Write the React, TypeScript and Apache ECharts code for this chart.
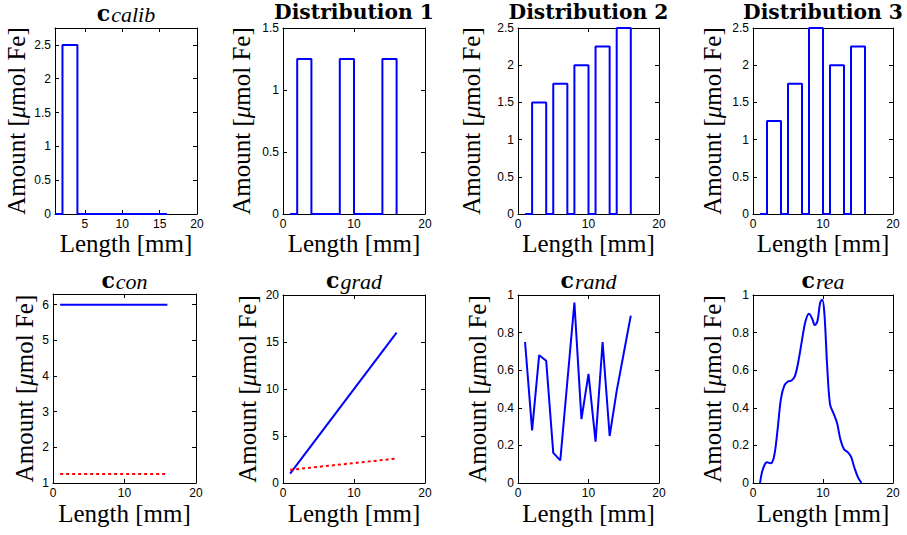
import React, { useEffect, useRef } from "react";
import * as echarts from "echarts";

// ---------- data ----------
const lengthStart = 1;
const lengthEnd = 16;

const calibStart = [2];
const calibEnd = [4];
const calibHeight = [2.5];

const dist1Start = [2, 8, 14];
const dist1End = [4, 10, 16];
const dist1Height = [1.25, 1.25, 1.25];

const dist23Start = [2, 5, 8, 11, 14];
const dist23End = [4, 7, 10, 13, 16];
const dist2Height = [1.5, 1.75, 2.0, 2.25, 2.5];
const dist3Height = [1.25, 1.75, 2.5, 2.0, 2.25];

const conX = [1, 16];
const conBlue = [6, 6];
const conRed = [1.25, 1.25];

const gradX = [1, 16];
const gradBlue = [1, 16];
const gradRed = [1.4, 2.6];

const randX = [1, 2, 3, 4, 5, 6, 7, 8, 9, 10, 11, 12, 13, 14, 15, 16];
const randY = [0.75, 0.28, 0.68, 0.65, 0.16, 0.12, 0.54, 0.96, 0.34, 0.58, 0.22, 0.75, 0.25, 0.49, 0.69, 0.89];

const reaX = [1.0, 1.3, 1.7, 2.0, 2.5, 3.0, 3.5, 4.0, 4.5, 5.0, 5.5, 6.0, 6.5, 7.0, 7.5, 8.0, 8.5, 8.8, 9.2, 9.6, 9.9, 10.2, 10.6, 11.0, 11.5, 12.0, 12.5, 13.0, 13.5, 14.0, 14.5, 15.0, 15.5];
const reaY = [0.0, 0.06, 0.10, 0.11, 0.105, 0.14, 0.28, 0.45, 0.52, 0.54, 0.545, 0.57, 0.65, 0.76, 0.86, 0.90, 0.87, 0.84, 0.86, 0.96, 0.975, 0.90, 0.62, 0.42, 0.37, 0.32, 0.23, 0.18, 0.165, 0.14, 0.08, 0.03, 0.0];

const xTicks0 = [0, 10, 20];
const xTicksCalib = [5, 10, 15, 20];
const yTicksCalib = [0, 0.5, 1, 1.5, 2, 2.5];
const yTicksDist1 = [0, 0.5, 1, 1.5];
const yTicksDist2 = [0, 0.5, 1, 1.5, 2, 2.5];
const yTicksCon = [1, 2, 3, 4, 5, 6];
const yTicksGrad = [0, 5, 10, 15, 20];
const yTicksUnit = [0, 0.2, 0.4, 0.6, 0.8, 1];

const xName = "Length [mm]";
const yNameParts = ["Amount [", "\u03bc", "mol Fe]"];

// ---------- helpers ----------
function outline(starts: number[], ends: number[], heights: number[]) {
  const pts: number[][] = [[lengthStart, 0]];
  for (let i = 0; i < starts.length; i++) {
    pts.push([starts[i], 0], [starts[i], heights[i]], [ends[i], heights[i]], [ends[i], 0]);
  }
  if (ends[ends.length - 1] < lengthEnd) pts.push([lengthEnd, 0]);
  return pts;
}
function zip(xs: number[], ys: number[]) {
  return xs.map((x, i) => [x, ys[i]]);
}

const SERIF = "Liberation Serif";
const BSERIF = "DejaVu Serif";
const SANS = "Liberation Sans";

let measureCtx: CanvasRenderingContext2D | null = null;
function textW(font: string, s: string) {
  if (!measureCtx) measureCtx = document.createElement("canvas").getContext("2d");
  if (!measureCtx) return s.length * 10;
  measureCtx.font = font;
  return measureCtx.measureText(s).width;
}

type Panel = {
  left: number; top: number; width: number; height: number;
  xMin: number; xMax: number; xTicks: number[];
  yMin: number; yMax: number; yTicks: number[];
  yNameX: number; xNameBase: number;
  main: string; sub: string; titleBase: number;
  series: { data: number[][]; dashed?: boolean; smooth?: boolean }[];
};

const panels: Panel[] = [
  { left: 55, top: 28, width: 142, height: 186, xMin: 1, xMax: 20, xTicks: xTicksCalib, yMin: 0, yMax: 2.75, yTicks: yTicksCalib, yNameX: 16, xNameBase: 251, main: "c", sub: "calib", titleBase: 20,
    series: [{ data: outline(calibStart, calibEnd, calibHeight) }] },
  { left: 283, top: 28, width: 142, height: 186, xMin: 0, xMax: 20, xTicks: xTicks0, yMin: 0, yMax: 1.5, yTicks: yTicksDist1, yNameX: 241, xNameBase: 251, main: "Distribution 1", sub: "", titleBase: 18,
    series: [{ data: outline(dist1Start, dist1End, dist1Height) }] },
  { left: 518, top: 28, width: 141, height: 186, xMin: 0, xMax: 20, xTicks: xTicks0, yMin: 0, yMax: 2.5, yTicks: yTicksDist2, yNameX: 471, xNameBase: 251, main: "Distribution 2", sub: "", titleBase: 18,
    series: [{ data: outline(dist23Start, dist23End, dist2Height) }] },
  { left: 753, top: 28, width: 140, height: 186, xMin: 0, xMax: 20, xTicks: xTicks0, yMin: 0, yMax: 2.5, yTicks: yTicksDist2, yNameX: 712, xNameBase: 251, main: "Distribution 3", sub: "", titleBase: 18,
    series: [{ data: outline(dist23Start, dist23End, dist3Height) }] },
  { left: 53, top: 294, width: 143, height: 189, xMin: 0, xMax: 20, xTicks: xTicks0, yMin: 1, yMax: 6.3, yTicks: yTicksCon, yNameX: 24, xNameBase: 521, main: "c", sub: "con", titleBase: 287,
    series: [{ data: zip(conX, conBlue) }, { data: zip(conX, conRed), dashed: true }] },
  { left: 283, top: 295, width: 142, height: 188, xMin: 0, xMax: 20, xTicks: xTicks0, yMin: 0, yMax: 20, yTicks: yTicksGrad, yNameX: 247, xNameBase: 521, main: "c", sub: "grad", titleBase: 287,
    series: [{ data: zip(gradX, gradBlue) }, { data: zip(gradX, gradRed), dashed: true }] },
  { left: 518, top: 295, width: 141, height: 188, xMin: 0, xMax: 20, xTicks: xTicks0, yMin: 0, yMax: 1, yTicks: yTicksUnit, yNameX: 477, xNameBase: 521, main: "c", sub: "rand", titleBase: 287,
    series: [{ data: zip(randX, randY) }] },
  { left: 753, top: 295, width: 140, height: 188, xMin: 0, xMax: 20, xTicks: xTicks0, yMin: 0, yMax: 1, yTicks: yTicksUnit, yNameX: 712, xNameBase: 521, main: "c", sub: "rea", titleBase: 287,
    series: [{ data: zip(reaX, reaY), smooth: true }] },
];

const NAME_SIZE = 25;
const C_SIZE = 22;
const SUB_SIZE = 22;
const DIST_SIZE = 20.3;

function buildOption() {
  const grid: any[] = [];
  const xAxis: any[] = [];
  const yAxis: any[] = [];
  const series: any[] = [];
  const graphic: any[] = [];
  const line = { show: true, onZero: false, lineStyle: { color: "#000", width: 1 } };
  const nameFont = `${NAME_SIZE}px "${SERIF}"`;
  const italicNameFont = `italic ${NAME_SIZE}px "${SERIF}"`;
  const yw = [textW(nameFont, yNameParts[0]), textW(italicNameFont, yNameParts[1]), textW(nameFont, yNameParts[2])];
  const yTotal = yw[0] + yw[1] + yw[2];

  panels.forEach((p, i) => {
    grid.push({ left: p.left, top: p.top, width: p.width, height: p.height, containLabel: false });
    const tick = (vals: number[]) => ({ show: true, inside: true, length: 4, customValues: vals, lineStyle: { color: "#000", width: 1 } });
    const label = (vals: number[]) => ({ show: true, customValues: vals, color: "#000", fontSize: 12, fontFamily: SANS, margin: 4 });
    xAxis.push({
      type: "value", gridIndex: i, position: "bottom", min: p.xMin, max: p.xMax,
      axisLine: line, axisTick: tick(p.xTicks), axisLabel: label(p.xTicks), splitLine: { show: false },
    });
    xAxis.push({
      type: "value", gridIndex: i, position: "top", min: p.xMin, max: p.xMax,
      axisLine: line, axisTick: tick(p.xTicks), axisLabel: { show: false }, splitLine: { show: false },
    });
    yAxis.push({
      type: "value", gridIndex: i, position: "left", min: p.yMin, max: p.yMax,
      axisLine: line, axisTick: tick(p.yTicks), axisLabel: label(p.yTicks), splitLine: { show: false },
    });
    yAxis.push({
      type: "value", gridIndex: i, position: "right", min: p.yMin, max: p.yMax,
      axisLine: line, axisTick: tick(p.yTicks), axisLabel: { show: false }, splitLine: { show: false },
    });
    p.series.forEach((s) => {
      series.push({
        type: "line", xAxisIndex: 2 * i, yAxisIndex: 2 * i, data: s.data,
        symbol: "none", showSymbol: false, clip: false, smooth: s.smooth ? 0.35 : false,
        lineStyle: s.dashed ? { color: "#ff0000", width: 2, type: [3, 3] } : { color: "#0000ff", width: 2 },
        z: 5,
      });
    });

    const cx = p.left + p.width / 2;
    const cy = p.top + p.height / 2;

    // x axis name
    graphic.push({
      type: "text", x: cx, y: p.xNameBase - 0.3 * NAME_SIZE,
      style: { text: xName, fontFamily: SERIF, fontSize: NAME_SIZE, fill: "#000", align: "center", verticalAlign: "middle" },
    });

    // y axis name (rotated group)
    let off = -yTotal / 2;
    const kids: any[] = yNameParts.map((t, k) => {
      const el = {
        type: "text", x: off, y: 0,
        style: { text: t, fontFamily: SERIF, fontSize: NAME_SIZE, fontStyle: k === 1 ? "italic" : "normal", fill: "#000", align: "left", verticalAlign: "middle" },
      };
      off += yw[k];
      return el;
    });
    graphic.push({ type: "group", x: p.yNameX, y: cy, rotation: Math.PI / 2, children: kids });

    // title
    if (p.sub) {
      const cFont = `bold ${C_SIZE}px "${BSERIF}"`;
      const sFont = `italic ${SUB_SIZE}px "${SERIF}"`;
      const wc = textW(cFont, p.main);
      const ws = textW(sFont, p.sub);
      const x0 = cx - (wc + 1 + ws) / 2;
      graphic.push({
        type: "text", x: x0, y: p.titleBase - 0.3 * C_SIZE,
        style: { text: p.main, fontFamily: BSERIF, fontWeight: "bold", fontSize: C_SIZE, fill: "#000", align: "left", verticalAlign: "middle" },
      });
      graphic.push({
        type: "text", x: x0 + wc + 1, y: p.titleBase + 1.5 - 0.3 * SUB_SIZE,
        style: { text: p.sub, fontFamily: SERIF, fontStyle: "italic", fontSize: SUB_SIZE, fill: "#000", align: "left", verticalAlign: "middle" },
      });
    } else {
      graphic.push({
        type: "text", x: cx, y: p.titleBase - 0.3 * DIST_SIZE,
        style: { text: p.main, fontFamily: BSERIF, fontWeight: "bold", fontSize: DIST_SIZE, fill: "#000", align: "center", verticalAlign: "middle" },
      });
    }
  });
  return { animation: false, backgroundColor: "#fff", grid, xAxis, yAxis, series, graphic };
}

export default function App() {
  const ref = useRef<HTMLDivElement>(null);
  useEffect(() => {
    if (!ref.current) return;
    const chart = echarts.init(ref.current, undefined, { renderer: "svg" });
    chart.setOption(buildOption() as any);
    return () => chart.dispose();
  }, []);
  return <div ref={ref} style={{ position: "absolute", left: 0, top: 0, width: 907, height: 535 }} />;
}
